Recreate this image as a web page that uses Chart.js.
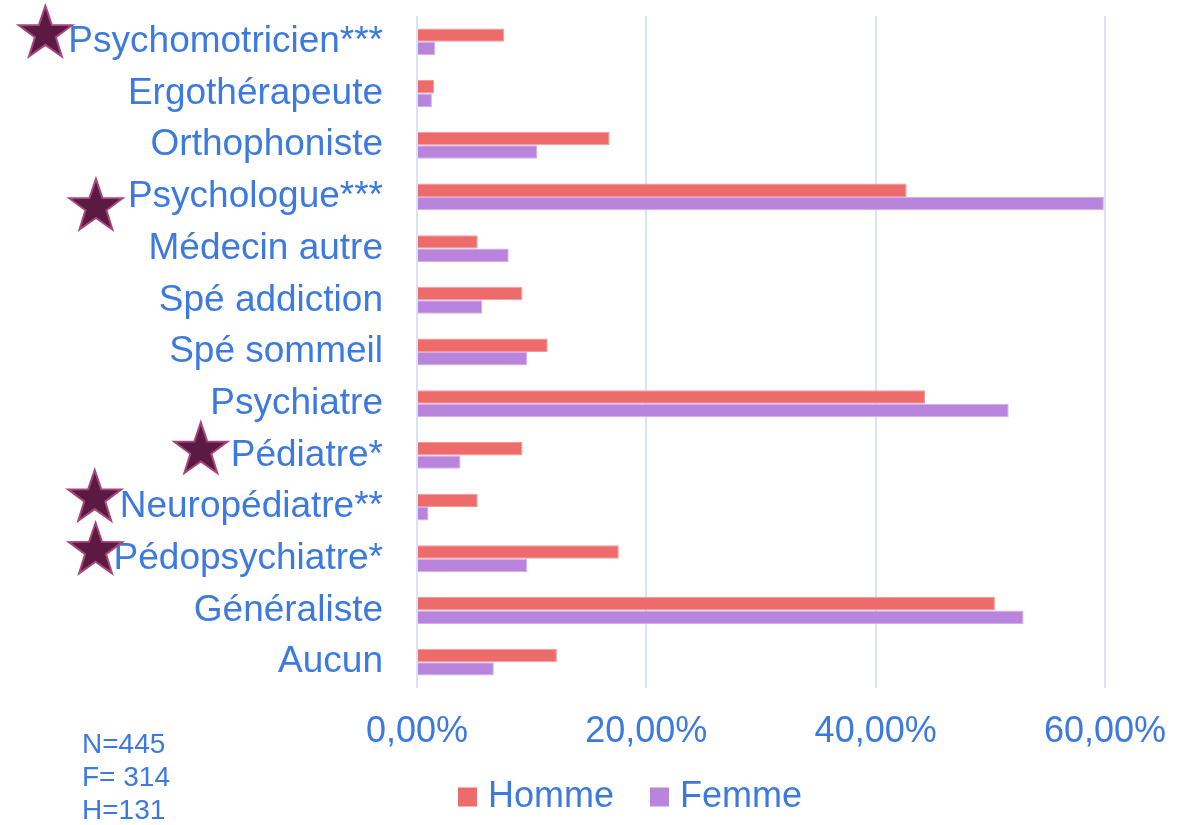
<!DOCTYPE html>
<html>
<head>
<meta charset="utf-8">
<script src="https://cdn.jsdelivr.net/npm/chart.js@4"></script>
<style>
  html, body { margin: 0; padding: 0; background: #fff; }
  #wrap { position: relative; width: 1189px; height: 825px; }
</style>
</head>
<body>
<div id="wrap"><canvas id="chart" width="1189" height="825"></canvas></div>
<script>
// categories, top to bottom
var categories = ['Psychomotricien***', 'Ergothérapeute', 'Orthophoniste', 'Psychologue***',
  'Médecin autre', 'Spé addiction', 'Spé sommeil', 'Psychiatre', 'Pédiatre*',
  'Neuropédiatre**', 'Pédopsychiatre*', 'Généraliste', 'Aucun'];
// % of respondents
var homme = [7.6, 1.5, 16.8, 42.7, 5.3, 9.2, 11.4, 44.3, 9.2, 5.3, 17.6, 50.4, 12.2];
var femme = [1.6, 1.3, 10.5, 59.9, 8.0, 5.7, 9.6, 51.6, 3.8, 1.0, 9.6, 52.9, 6.7];
var seriesNames = ['Homme', 'Femme'];
var sampleNotes = ['N=445', 'F= 314', 'H=131'];
// categories marked with a star
var starred = ['Psychomotricien***', 'Psychologue***', 'Pédiatre*', 'Neuropédiatre**', 'Pédopsychiatre*'];

var blue = '#3d7ae0';
var fontFamily = "'Liberation Sans', Arial, sans-serif";
var labelSize = 37;
var labelGap = 34;

function drawStar(ctx, cx, cy, outer, inner) {
  ctx.beginPath();
  for (var i = 0; i < 10; i++) {
    var r = i % 2 === 0 ? outer : inner;
    var a = -Math.PI / 2 + i * Math.PI / 5;
    var x = cx + r * Math.cos(a), y = cy + r * Math.sin(a);
    if (i === 0) ctx.moveTo(x, y); else ctx.lineTo(x, y);
  }
  ctx.closePath();
  ctx.fillStyle = '#5a1a42';
  ctx.fill();
  ctx.lineWidth = 2;
  ctx.strokeStyle = '#a8457a';
  ctx.stroke();
}

// stars next to the significant labels, plus sample sizes and legend
var extras = {
  id: 'extras',
  afterDraw: function (chart) {
    var ctx = chart.ctx;
    var yScale = chart.scales.y;
    var area = chart.chartArea;
    // star offsets: from label left edge / from row centre
    var starPos = {
      'Psychomotricien***': [-23, -8],
      'Psychologue***': [-32, 10],
      'Pédiatre*': [-30, -5],
      'Neuropédiatre**': [-25, -9],
      'Pédopsychiatre*': [-18, -8]
    };
    ctx.save();
    ctx.font = labelSize + 'px ' + fontFamily;
    starred.forEach(function (name) {
      var idx = categories.indexOf(name);
      var w = ctx.measureText(name).width;
      var left = area.left - labelGap - w;
      var off = starPos[name];
      drawStar(ctx, left + off[0], yScale.getPixelForValue(idx) + off[1], 28, 11);
    });

    // N / F / H
    ctx.fillStyle = blue;
    ctx.font = '28px ' + fontFamily;
    ctx.textBaseline = 'middle';
    ctx.textAlign = 'left';
    sampleNotes.forEach(function (t, i) {
      ctx.fillText(t, 82, 745 + i * 33);
    });

    // legend
    ctx.font = '36px ' + fontFamily;
    var box = 19, gap = 11, itemGap = 36;
    var widths = chart.data.datasets.map(function (d) { return box + gap + ctx.measureText(d.label).width; });
    var total = widths.reduce(function (a, b) { return a + b; }, 0) + itemGap * (widths.length - 1);
    var x = 630 - total / 2, cy = 797;
    chart.data.datasets.forEach(function (d, i) {
      ctx.fillStyle = d.backgroundColor;
      ctx.fillRect(x, cy - box / 2, box, box);
      ctx.fillStyle = blue;
      ctx.fillText(d.label, x + box + gap, cy);
      x += widths[i] + itemGap;
    });
    ctx.restore();
  }
};

new Chart(document.getElementById('chart'), {
  type: 'bar',
  data: {
    labels: categories,
    datasets: [{
      label: seriesNames[0],
      data: homme,
      backgroundColor: '#ed6b6b',
      borderColor: '#f29a9a',
      borderWidth: 1
    }, {
      label: seriesNames[1],
      data: femme,
      backgroundColor: '#b884dc',
      borderColor: '#d2aef0',
      borderWidth: 1
    }]
  },
  options: {
    indexAxis: 'y',
    responsive: false,
    animation: false,
    devicePixelRatio: 1,
    layout: { padding: { top: 16, right: 84, bottom: 75, left: 0 } },
    datasets: { bar: { categoryPercentage: 0.52, barPercentage: 1.0 } },
    plugins: {
      legend: { display: false },
      tooltip: { enabled: false }
    },
    scales: {
      x: {
        min: 0,
        max: 60,
        ticks: {
          stepSize: 20,
          padding: 22,
          color: blue,
          font: { family: fontFamily, size: 36 },
          callback: function (v) { return v.toFixed(2).replace('.', ',') + '%'; }
        },
        grid: { color: '#d9e3f7', lineWidth: 2, drawTicks: false },
        border: { display: false },
        afterFit: function (s) { s.height = 62; }
      },
      y: {
        ticks: {
          padding: 0,
          color: blue,
          font: { family: fontFamily, size: labelSize, lineHeight: 0.8 },
          autoSkip: false
        },
        grid: { display: true, color: 'transparent', drawTicks: true, tickLength: labelGap, drawOnChartArea: false },
        border: { display: false },
        afterFit: function (s) { s.width = 417; }
      }
    }
  },
  plugins: [extras]
});
</script>
</body>
</html>
